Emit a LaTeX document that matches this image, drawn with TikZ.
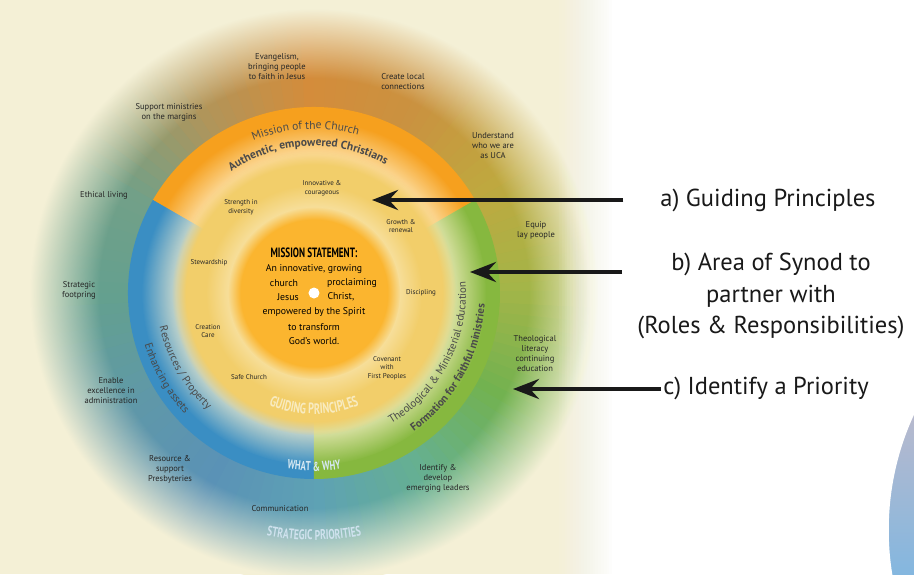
\documentclass[tikz,border=0pt]{standalone}
\usepackage{fontspec}
\setmainfont{PT Sans}
\newfontfamily\condfont[FakeStretch=0.68]{PT Sans}
\usetikzlibrary{arrows.meta, fadings, decorations.text}

\definecolor{bgcream}{HTML}{F4F0D6}
\definecolor{oc0}{HTML}{A4B548}
\definecolor{oc30}{HTML}{BFA83F}
\definecolor{oc60}{HTML}{CA9240}
\definecolor{oc90}{HTML}{D48C3B}
\definecolor{oc120}{HTML}{B0955A}
\definecolor{oc150}{HTML}{72A088}
\definecolor{oc180}{HTML}{64A08F}
\definecolor{oc210}{HTML}{5F98A8}
\definecolor{oc240}{HTML}{5A92B6}
\definecolor{oc270}{HTML}{5EA2B4}
\definecolor{oc300}{HTML}{66B090}
\definecolor{oc330}{HTML}{72B250}
\definecolor{ringorange}{HTML}{F6A01E}
\definecolor{ringblue}{HTML}{3A8EC3}
\definecolor{ringgreen}{HTML}{86B83F}
\definecolor{ringglow}{HTML}{FFF4D0}
\definecolor{gpyellow}{HTML}{F2CE6A}
\definecolor{gphalo}{HTML}{F7DE98}
\definecolor{gpcore}{HTML}{FBB52F}
\definecolor{ringtext}{HTML}{4A4A4A}
\definecolor{gptext}{HTML}{F8EBC0}
\definecolor{wwtext}{HTML}{D5E8F2}
\definecolor{sptext}{HTML}{CFE2EE}
\definecolor{cornergray}{HTML}{BBB9CC}
\definecolor{cornerblue}{HTML}{84B7DF}

\pgfdeclareradialshading{vignetteshade}{\pgfpointorigin}{color(0pt)=(pgftransparent!100); color(18.5pt)=(pgftransparent!100); color(24.5pt)=(pgftransparent!0); color(50pt)=(pgftransparent!0)}
\pgfdeclarefading{vignette}{\pgfuseshading{vignetteshade}}

\newcommand\ringfont[1]{\fontsize{#1}{13}\selectfont\color{ringtext}}
\newcommand\ringbold[1]{\fontsize{#1}{13}\selectfont\bfseries\color{ringtext}}
\newcommand\capsfont[1]{\condfont\bfseries\fontsize{#1}{#1}\selectfont}

\begin{document}
\begin{tikzpicture}[x=1pt, y=1pt, >={Stealth[length=26pt, width=20pt, inset=9pt]},
  sp/.style={align=center, font=\fontsize{8.5}{10}\selectfont, text=black!85, inner sep=1pt},
  gp/.style={align=center, font=\fontsize{7}{8.5}\selectfont, text=black!85, inner sep=1pt},
  ms/.style={font=\fontsize{9.8}{11}\selectfont, text=black, inner sep=1pt},
  lbl/.style={align=center, font=\fontsize{24.5}{31.5}\selectfont, text=black!90, inner sep=2pt},
  pointer/.style={->, line width=4.5pt, black!90}]

% background and strategic priorities disc
  \useasboundingbox (-314,-281) rectangle (600,293);
  \clip (-314,-281) rectangle (600,293);
  \fill[bgcream] (-314,-281) rectangle (600,293);
  \foreach \a/\ca/\cb in {0/oc0/oc30, 30/oc30/oc60, 60/oc60/oc90, 90/oc90/oc120,
      120/oc120/oc150, 150/oc150/oc180, 180/oc180/oc210, 210/oc210/oc240,
      240/oc240/oc270, 270/oc270/oc300, 300/oc300/oc330, 330/oc330/oc0}
    \foreach \k in {0,...,9} {
      \pgfmathtruncatemacro{\mixpct}{\k*10}
      \fill[\cb!\mixpct!\ca] (0,0) -- (\a+\k*3:286)
        arc[start angle=\a+\k*3, delta angle=3.6, radius=286] -- cycle;
    }
  \fill[bgcream, path fading=vignette] (0,0) circle (290);
  % white side, faded in by layers
  \foreach \i in {0,...,19} {
    \pgfmathsetmacro{\op}{1/(20-\i)}
    \fill[white, opacity=\op] (245+\i*2.8,-281) rectangle (600,293);
  }

% corner circle
  \begin{scope}
    \clip (850,-237) circle (276);
    \shade[top color=cornergray, bottom color=cornerblue] (560,-110) rectangle (600,-281);
  \end{scope}
  \draw[white, line width=1.5pt] (850,-237) circle (276);

% what & why ring
  \fill[ringorange] (0,0) -- (30:186) arc[start angle=30, end angle=150, radius=186] -- cycle;
  \fill[ringblue] (0,0) -- (150:186) arc[start angle=150, end angle=270, radius=186] -- cycle;
  \fill[ringgreen] (0,0) -- (270:186) arc[start angle=270, end angle=390, radius=186] -- cycle;
  \fill[ringglow, opacity=0.7, path fading=circle with fuzzy edge 20 percent] (0,0) circle (172);

% guiding principles and mission statement
  \fill[gpyellow, path fading=circle with fuzzy edge 10 percent] (0,0) circle (142);
  \fill[gphalo, path fading=circle with fuzzy edge 20 percent] (0,0) circle (108);
  \fill[gpcore, path fading=circle with fuzzy edge 15 percent] (0,0) circle (86);
  \fill[white] (0,0) circle (5.5);

% curved texts
  \path[decorate, decoration={text along path, text align=center,
    text={|\ringfont{11.5}|Mission of the Church}}]
    (140:164) arc[start angle=140, end angle=46, radius=164];
  \path[decorate, decoration={text along path, text align=center,
    text={|\ringbold{11.5}|Authentic, empowered Christians}}]
    (140:147) arc[start angle=140, end angle=45, radius=147];
  \path[decorate, decoration={text along path, text align=center,
    text={|\ringfont{11}|Resources / Property}}]
    (165:158) arc[start angle=165, end angle=255, radius=158];
  \path[decorate, decoration={text along path, text align=center,
    text={|\ringfont{11}|Enhancing assets}}]
    (165:177) arc[start angle=165, end angle=255, radius=177];
  \path[decorate, decoration={text along path, text align=center,
    text={|\ringfont{11}|Theological {\&} Ministerial education}}]
    (-75:152) arc[start angle=-75, end angle=20, radius=152];
  \path[decorate, decoration={text along path, text align=center,
    text={|\ringbold{11}|Formation for faithful ministries}}]
    (-75:171) arc[start angle=-75, end angle=17, radius=171];
  \path[decorate, decoration={text along path, text align=center,
    text={|\capsfont{15}\color{gptext}|GUIDING PRINCIPLES}}]
    (240:121) arc[start angle=240, end angle=300, radius=121];
  \path[decorate, decoration={text along path, text align=center,
    text={|\capsfont{13}\color{wwtext}|WHAT {\&} WHY}}]
    (245:178) arc[start angle=245, end angle=295, radius=178];
  \path[decorate, decoration={text along path, text align=center,
    text={|\capsfont{14}\color{sptext}|STRATEGIC PRIORITIES}}]
    (250:247) arc[start angle=250, end angle=290, radius=247];

% strategic priorities
  \node[sp] (s1) at (-37,226) {Evangelism,\\bringing people\\to faith in Jesus};
  \node[sp] (s2) at (89,211) {Create local\\connections};
  \node[sp] (s3) at (-145,181) {Support ministries\\on the margins};
  \node[sp] (s4) at (179,147) {Understand\\who we are\\as UCA};
  \node[sp] (s5) at (-210,98) {Ethical living};
  \node[sp] (s6) at (222,63) {Equip\\lay people};
  \node[sp] (s7) at (-235,3) {Strategic\\footpring};
  \node[sp] (s8) at (221,-61) {Theological\\literacy\\continuing\\education};
  \node[sp] (s9) at (-203,-98) {Enable\\excellence in\\administration};
  \node[sp] (s10) at (-144,-176) {Resource \&\\support\\Presbyteries};
  \node[sp] (s11) at (124,-185) {Identify \&\\develop\\emerging leaders};
  \node[sp] (s12) at (-34,-216) {Communication};

% guiding principles
  \node[gp] (g1) at (8,105) {Innovative \&\\courageous};
  \node[gp] (g2) at (-73,86) {Strength in\\diversity};
  \node[gp] (g3) at (87,67) {Growth \&\\renewal};
  \node[gp] (g4) at (-105,30) {Stewardship};
  \node[gp] (g5) at (107,0) {Discipling};
  \node[gp] (g6) at (-106,-38) {Creation\\Care};
  \node[gp] (g7) at (73,-75) {Covenant\\with\\First Peoples};
  \node[gp] (g8) at (-65,-84) {Safe Church};

% mission statement
  \node[ms, font=\capsfont{13.5}] (m1) at (0,40) {MISSION STATEMENT:};
  \node[ms] (m2) at (0,24) {An innovative, growing};
  \node[ms] (m3) at (-30,10) {church};
  \node[ms] (m4) at (38,10) {proclaiming};
  \node[ms] (m5) at (-26,-4) {Jesus};
  \node[ms] (m6) at (27,-4) {Christ,};
  \node[ms] (m7) at (0,-19) {empowered by the Spirit};
  \node[ms] (m8) at (0,-34) {to transform};
  \node[ms] (m9) at (0,-48) {God's world.};

% labels and pointers
  \node[lbl] (la) at (454,93) {a) Guiding Principles};
  \node[lbl] (lb) at (457,-3) {b) Area of Synod to\\partner with\\(Roles \& Responsibilities)};
  \node[lbl] (lc) at (452,-95) {c) Identify a Priority};
  \coordinate (ta) at (58,93);
  \coordinate (tb) at (156,21);
  \coordinate (tc) at (199,-96);
  \draw[pointer, shorten <=35pt] (la.west |- ta) -- (ta);
  \draw[pointer, shorten <=13pt] (lb.west |- tb) -- (tb);
  \draw[pointer] (lc.west |- tc) -- (tc);

\end{tikzpicture}
\end{document}
